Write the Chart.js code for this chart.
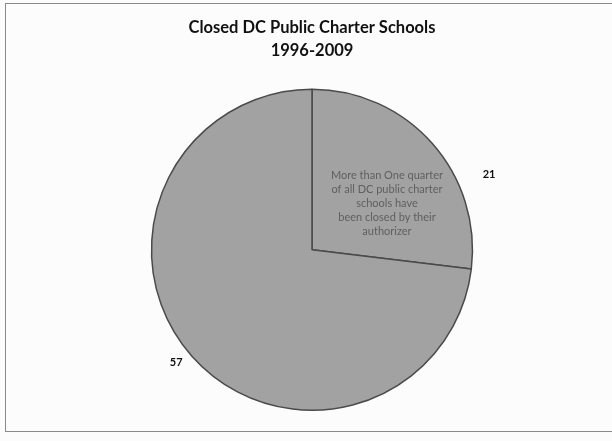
<!DOCTYPE html>
<html>
<head>
<meta charset="utf-8">
<script src="https://cdn.jsdelivr.net/npm/chart.js@4/dist/chart.umd.min.js"></script>
<style>
  html, body { margin: 0; padding: 0; background: #fcfcfc; }
  #wrap { width: 612px; height: 441px; }
</style>
</head>
<body>
<div id="wrap"><canvas id="closedChart" width="612" height="441"></canvas></div>
<script>
const titleLines = ['Closed DC Public Charter Schools', '1996-2009'];
const categories = ['Closed', 'Open'];
const schoolCounts = [21, 57];
const noteLines = [
    'More than One quarter',
    'of all DC public charter',
    'schools have',
    'been closed by their',
    'authorizer'
];

// value labels sit outside the pie, note text inside the small slice
const pieText = {
    id: 'pieText',
    beforeDraw(chart) {
        const c = chart.ctx;
        c.save();
        c.strokeStyle = '#8a8a8a';
        c.lineWidth = 1;
        c.strokeRect(5.5, 3.5, 640, 428);
        c.restore();
    },
    afterDatasetsDraw(chart, args, opts) {
        const c = chart.ctx;
        const arcs = chart.getDatasetMeta(0).data;
        const values = chart.data.datasets[0].data;
        c.save();
        c.textAlign = 'center';
        c.textBaseline = 'middle';
        arcs.forEach((arc, i) => {
            const p = opts.valuePos[i];
            const a = arc.startAngle + (arc.endAngle - arc.startAngle) * p[0];
            const r = arc.outerRadius * p[1];
            c.font = 'bold 11px Lato';
            c.fillStyle = '#111';
            c.fillText(values[i], arc.x + Math.cos(a) * r, arc.y + Math.sin(a) * r);
        });
        const first = arcs[0];
        const a = first.startAngle + (first.endAngle - first.startAngle) * opts.notePos[0];
        const r = first.outerRadius * opts.notePos[1];
        const x = first.x + Math.cos(a) * r;
        const y = first.y + Math.sin(a) * r;
        c.font = '11px Lato';
        c.fillStyle = '#5f5f5f';
        noteLines.forEach((t, k) => {
            c.fillText(t, x, y + (k - (noteLines.length - 1) / 2) * 14);
        });
        c.restore();
    }
};

new Chart(document.getElementById('closedChart'), {
    type: 'pie',
    data: {
        labels: categories,
        datasets: [{
            data: schoolCounts,
            backgroundColor: '#a2a2a2',
            borderColor: '#4a4a4a',
            borderWidth: 1.5
        }]
    },
    options: {
        responsive: false,
        animation: false,
        layout: { padding: { top: 10, bottom: 30, left: 100, right: 88 } },
        plugins: {
            legend: { display: false },
            tooltip: { enabled: false },
            title: {
                display: true,
                text: titleLines,
                color: '#111',
                font: { family: 'Lato', size: 16.5, weight: 'bold', lineHeight: 1.35 },
                padding: { top: 7, bottom: 27 }
            },
            pieText: {
                valuePos: [[0.69, 1.2], [0.507, 1.1]],
                notePos: [0.6, 0.55]
            }
        }
    },
    plugins: [pieText]
});
</script>
</body>
</html>
